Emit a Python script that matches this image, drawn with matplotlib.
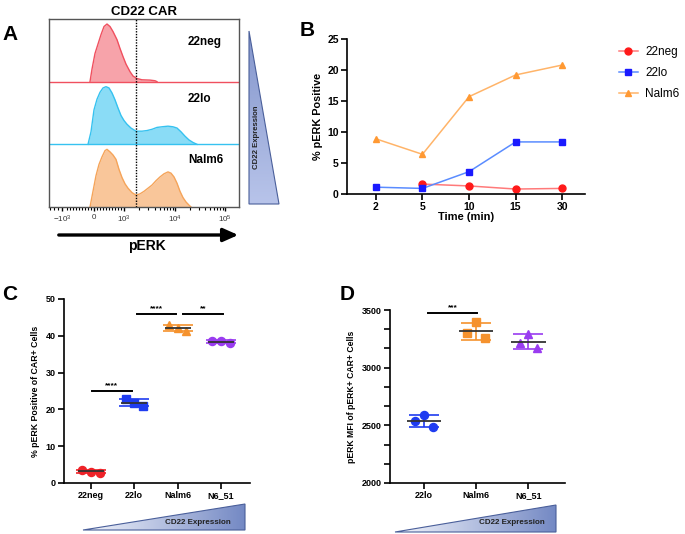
#!/usr/bin/env python3
import sys
import numpy as np
import matplotlib
matplotlib.use('Agg')
import matplotlib.pyplot as plt
from matplotlib.patches import Polygon
from matplotlib.colors import LinearSegmentedColormap
from matplotlib.ticker import FixedLocator, MultipleLocator, AutoMinorLocator

W, H = 685, 534  # figure size in pixels

# ---- panel A: pERK histograms (x in display channels, h = fraction of row)
hist_names = ['22neg', '22lo', 'Nalm6']
neg_u = [-4, -2, 1, 4, 7, 10, 13, 16, 19, 23, 26, 29, 32, 36, 39, 43, 48, 56, 61, 63]
neg_h = [0, .2, .45, .6, .75, .88, .92, .88, .8, .67, .53, .4, .28, .16, .09, .05, .03, .025, .015, 0]
lo_u = [-6, -3, 0, 3, 6, 9, 12, 15, 18, 21, 24, 27, 30, 33, 37, 42, 48, 53, 58, 63,
        68, 74, 79, 83, 87, 91, 95, 99, 103]
lo_h = [0, .2, .55, .72, .83, .9, .92, .9, .82, .71, .58, .46, .38, .32, .26, .21, .21, .22, .24, .27,
        .28, .29, .28, .26, .2, .13, .07, .03, 0]
n6_u = [-4, -1, 2, 5, 8, 11, 13, 16, 19, 22, 25, 28, 31, 34, 38, 42, 46, 50, 54, 58,
        62, 66, 70, 74, 77, 80, 83, 86, 89, 92, 95, 97]
n6_h = [0, .25, .5, .68, .8, .9, .92, .88, .83, .76, .6, .47, .37, .3, .23, .19, .21, .25, .3, .35,
        .42, .48, .53, .56, .54, .48, .38, .25, .15, .08, .03, 0]
gate_u = 42
a_tick_pos = [-32, 0, 30, 81, 131]
a_tick_labels = [r'$-10^3$', '0', r'$10^3$', r'$10^4$', r'$10^5$']

# ---- panel B: time course
times = ['2', '5', '10', '15', '30']
b_22neg = [np.nan, 1.6, 1.3, 0.8, 0.9]
b_22lo = [1.1, 0.9, 3.6, 8.4, 8.4]
b_nalm6 = [8.9, 6.4, 15.7, 19.2, 20.8]

# ---- panel C: % pERK positive
c_groups = ['22neg', '22lo', 'Nalm6', 'N6_51']
c_vals = [[3.5, 3.1, 2.8], [22.7, 21.8, 20.9], [42.9, 42.0, 41.4], [38.6, 38.6, 38.0]]

# ---- panel D: pERK MFI
d_groups = ['22lo', 'Nalm6', 'N6_51']
d_vals = [[2540, 2590, 2483], [3298, 3399, 3255], [3217, 3292, 3168]]

RED, BLUE, ORANGE, PURPLE = '#ee2228', '#1f3cf0', '#f5922e', '#9a3cf0'


def rect(l, t, r, b):
    # pixel box -> figure fraction
    return [l / W, 1 - b / H, (r - l) / W, (b - t) / H]


def grad_triangle(ax, verts, c0, c1, horizontal):
    poly = Polygon(verts, closed=True, facecolor='none', edgecolor='#4a5f9a', lw=0.8, zorder=3)
    ax.add_patch(poly)
    xs = [v[0] for v in verts]
    ys = [v[1] for v in verts]
    g = np.linspace(0, 1, 256)
    img = g[None, :] if horizontal else g[:, None]
    cmap = LinearSegmentedColormap.from_list('tri', [c0, c1])
    im = ax.imshow(img, extent=(min(xs), max(xs), max(ys), min(ys)), cmap=cmap,
                   aspect='auto', origin='upper', zorder=2)
    im.set_clip_path(poly)


def prism_axes(ax):
    for s in ['top', 'right']:
        ax.spines[s].set_visible(False)
    for s in ['left', 'bottom']:
        ax.spines[s].set_linewidth(1.2)
    ax.tick_params(width=1.2, length=4, pad=2)


def dot_plot(ax, vals, colors, markers, off, ms, half, cap):
    for i, (v, c, m) in enumerate(zip(vals, colors, markers)):
        xs = i + np.array([-off, 0, off])
        ax.plot(xs, v, ls='none', marker=m, color=c, ms=ms, zorder=3, clip_on=False)
        mean, sd = np.mean(v), np.std(v, ddof=1)
        ax.errorbar(i, mean, yerr=sd, color=c, capsize=cap, lw=1.2, capthick=1.2, zorder=2)
        ax.hlines(mean, i - half, i + half, color='#333333', lw=1.3, zorder=4)


def sig(ax, x0, x1, y, txt, dy):
    ax.plot([x0, x1], [y, y], color='black', lw=1.4, clip_on=False)
    ax.text((x0 + x1) / 2, y + dy, txt, ha='center', va='bottom', fontsize=6, fontweight='bold')


def main():
    plt.rcParams['font.family'] = ['Liberation Sans', 'DejaVu Sans']
    plt.rcParams['mathtext.default'] = 'regular'
    fig = plt.figure(figsize=(W / 100, H / 100), dpi=100)

    # overlay for decorations in pixel coords
    deco = fig.add_axes([0, 0, 1, 1])
    deco.set_xlim(0, W)
    deco.set_ylim(H, 0)
    deco.axis('off')

    # ---------------- A
    axA = fig.add_axes(rect(49, 19, 239, 207))
    styles = [('#f7a3aa', '#f0505f'), ('#8adcf6', '#36c2f0'), ('#f9c69a', '#f5a45a')]
    curves = [(neg_u, neg_h), (lo_u, lo_h), (n6_u, n6_h)]
    for k, ((u, h), (fc, lc)) in enumerate(zip(curves, styles)):
        base = 2 - k
        top = base + np.array(h)
        axA.fill_between(u, base, top, color=fc, lw=0, zorder=1)
        axA.plot(u, top, color=lc, lw=1.0, zorder=2)
        if base > 0:
            axA.axhline(base, color=lc, lw=1.0, zorder=2)
        axA.text(94, base + [0.63, 0.72, 0.75][k], hist_names[k], fontsize=8.5,
                 fontweight='bold', va='center')
    axA.axvline(gate_u, color='black', ls=(0, (1, 1)), lw=1.0, zorder=3)
    axA.set_xlim(-45, 145)
    axA.set_ylim(0, 3)
    axA.set_yticks([])
    axA.xaxis.set_major_locator(FixedLocator(a_tick_pos))
    axA.set_xticklabels(a_tick_labels)
    minor = [30 + 51 * np.log10(k) for k in range(2, 10)] + \
            [81 + 50 * np.log10(k) for k in range(2, 10)] + \
            [s * 3 * k for k in range(1, 10) for s in (-1, 1)] + \
            [-32 - 4 * k for k in range(1, 4)]
    axA.xaxis.set_minor_locator(FixedLocator(minor))
    axA.tick_params(axis='x', which='major', length=3, width=1, labelsize=5.8,
                    labelcolor='#333333', pad=2)
    axA.tick_params(axis='x', which='minor', length=1.8, width=0.8)
    for s in axA.spines.values():
        s.set_color('#555555')
        s.set_linewidth(1.0)
    axA.set_title('CD22 CAR', fontsize=9.5, fontweight='bold', pad=3)
    deco.annotate('', xy=(241, 235), xytext=(56, 235),
                  arrowprops=dict(arrowstyle='-|>,head_length=0.9,head_width=0.4',
                                  color='black', lw=2.4))
    deco.text(147, 246, 'pERK', fontsize=10, fontweight='bold', ha='center', va='center')
    grad_triangle(deco, [(249, 31), (249, 204), (279, 204)], '#8496cc', '#b8c4ea', False)
    deco.text(257, 137, 'CD22 Expression', rotation=90, fontsize=5.6, fontweight='bold',
              ha='center', va='center', color='#222222', zorder=4)

    # ---------------- B
    axB = fig.add_axes(rect(347, 39, 585, 194))
    xb = np.arange(len(times))
    axB.plot(xb, b_22neg, color='#ff7a7a', lw=1.1, marker='o', mfc='#ff1a1a', mec='#ff1a1a',
             ms=5, label='22neg', clip_on=False)
    axB.plot(xb, b_22lo, color='#5a8cff', lw=1.1, marker='s', mfc='#1a1aff', mec='#1a1aff',
             ms=5, label='22lo', clip_on=False)
    axB.plot(xb, b_nalm6, color='#ffb469', lw=1.1, marker='^', mfc='#ff9933', mec='#ff9933',
             ms=5, label='Nalm6', clip_on=False)
    axB.set_xlim(-0.62, 4.49)
    axB.set_ylim(0, 25)
    axB.set_xticks(xb)
    axB.set_xticklabels(times)
    axB.yaxis.set_major_locator(MultipleLocator(5))
    prism_axes(axB)
    axB.tick_params(labelsize=7.5)
    for t in axB.get_xticklabels() + axB.get_yticklabels():
        t.set_fontweight('bold')
    axB.set_xlabel('Time (min)', fontsize=8, fontweight='bold', labelpad=0)
    axB.set_ylabel('% pERK Positive', fontsize=7.8, fontweight='bold', labelpad=3)
    axB.legend(loc='upper left', bbox_to_anchor=(619 / W, 1 - 46 / H),
               bbox_transform=fig.transFigure, frameon=False, fontsize=8.5,
               handlelength=1.6, labelspacing=0.75, handletextpad=0.6,
               borderpad=0, borderaxespad=0)

    # ---------------- C
    axC = fig.add_axes(rect(64, 299, 250, 483))
    dot_plot(axC, c_vals, [RED, BLUE, ORANGE, PURPLE], ['o', 's', '^', 'o'],
             0.2, 5.8, 0.3, 11)
    axC.set_xlim(-0.62, 3.67)
    axC.set_ylim(0, 50)
    axC.set_xticks(range(len(c_groups)))
    axC.set_xticklabels(c_groups)
    axC.yaxis.set_major_locator(MultipleLocator(10))
    prism_axes(axC)
    axC.tick_params(labelsize=6.5)
    for t in axC.get_xticklabels() + axC.get_yticklabels():
        t.set_fontweight('bold')
    axC.set_ylabel('% pERK Positive of CAR+ Cells', fontsize=6.3, fontweight='bold', labelpad=4)
    sig(axC, 0.02, 0.95, 25, '****', 0.6)
    sig(axC, 1.06, 1.96, 45.9, '****', 0.6)
    sig(axC, 2.12, 3.05, 45.9, '**', 0.6)
    grad_triangle(deco, [(83, 530), (245, 530), (245, 504)], '#f4f6fc', '#7489c4', True)
    deco.text(198, 522, 'CD22 Expression', fontsize=5.8, fontweight='bold',
              ha='center', va='center', color='#222222', zorder=4)

    # ---------------- D
    axD = fig.add_axes(rect(390, 310, 565, 483))
    dot_plot(axD, d_vals, [BLUE, ORANGE, PURPLE], ['o', 's', '^'],
             0.17, 5.8, 0.33, 11)
    axD.set_xlim(-0.65, 2.7)
    axD.set_ylim(2000, 3500)
    axD.set_xticks(range(len(d_groups)))
    axD.set_xticklabels(d_groups)
    axD.yaxis.set_major_locator(MultipleLocator(500))
    axD.yaxis.set_minor_locator(AutoMinorLocator(3))
    prism_axes(axD)
    axD.tick_params(labelsize=6.5)
    axD.tick_params(axis='y', which='minor', length=4, width=1.2)
    for t in axD.get_xticklabels() + axD.get_yticklabels():
        t.set_fontweight('bold')
    axD.set_ylabel('pERK MFI of pERK+ CAR+ Cells', fontsize=6.2, fontweight='bold', labelpad=4)
    sig(axD, 0.08, 1.01, 3470, '***', 15)
    grad_triangle(deco, [(395, 532), (556, 532), (556, 505)], '#f4f6fc', '#7489c4', True)
    deco.text(512, 523, 'CD22 Expression', fontsize=5.8, fontweight='bold',
              ha='center', va='center', color='#222222', zorder=4)

    # panel letters
    for letter, x, y in [('A', 2, 35), ('B', 300, 30), ('C', 2, 295), ('D', 340, 295)]:
        deco.text(x, y, letter, fontsize=15, fontweight='bold', ha='left', va='center')

    fig.savefig('out.png', dpi=100)


if __name__ == '__main__':
    sys.exit(main())
